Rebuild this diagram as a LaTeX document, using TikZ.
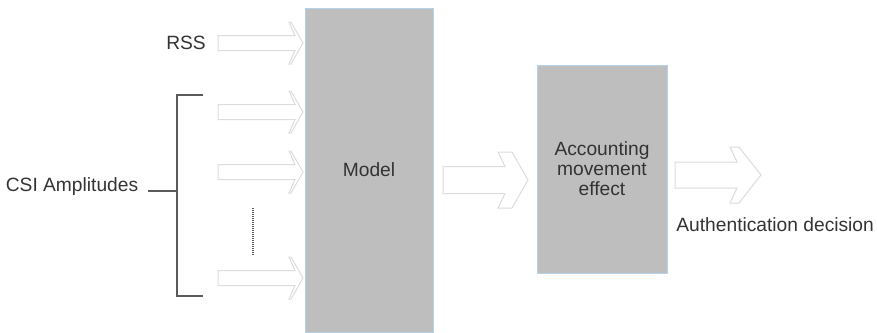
\documentclass[tikz,border=0pt]{standalone}
\usepackage{fontspec}
\setmainfont{Liberation Sans}
\usepackage{tikz}
\usetikzlibrary{positioning,calc}

\definecolor{boxgray}{HTML}{BEBEBE}
\definecolor{boxedge}{HTML}{B4D2EA}
\definecolor{arrowedge}{HTML}{DCDCDC}
\definecolor{txt}{HTML}{333333}
\definecolor{bracegray}{HTML}{5A5A5A}

% block arrow: start x, tip x, centre y, shaft half, head half, back, front, join
\newcommand{\fatarrow}[8]{%
  \draw[arrowedge, fill=white, line width=0.5pt, line join=miter]
    (#1,#3-#4) -- (#2-#8,#3-#4) -- (#2-#6,#3-#5) -- (#2-#7,#3-#5) -- (#2,#3)
    -- (#2-#7,#3+#5) -- (#2-#6,#3+#5) -- (#2-#8,#3+#4) -- (#1,#3+#4) -- cycle;}

\begin{document}
\begin{tikzpicture}[x=0.5pt, y=-0.5pt,
    every node/.style={font=\fontsize{9.6}{10}\selectfont, text=txt},
    block/.style={draw=boxedge, line width=0.5pt, fill=boxgray, align=center, inner sep=0pt},
    bracket/.style={draw=bracegray, line width=0.9pt}]
\useasboundingbox (0,0) rectangle (877,332);
% Boxes
\node[block, minimum width=64pt, minimum height=162pt] (model) at (369,170) {Model};
\node[block, minimum width=65pt, minimum height=104pt] (acc) at (602,169) {Accounting\\movement\\ effect};
% Labels
\node (rss) at (186,43) {RSS};
\node (csi) at (72,187) {CSI Amplitudes};
\node[anchor=west, inner sep=0pt] (auth) at (676,225) {Authentication decision};
% Input arrows
\foreach \y in {43,112,172,278} {
    \fatarrow{218}{303}{\y}{7.5}{21}{14}{12}{8}
}
\draw[bracegray, line width=0.7pt, dash pattern=on 0.5pt off 0.5pt] (253,208) -- (253,255);
% Bracket
\draw[bracket] (203,95) -- (177,95) -- (177,296) -- (203,296);
\draw[bracket] (148,191) -- (177,191);
% Model to correction, correction to decision
\fatarrow{443}{528}{180}{13.5}{28}{30}{16}{23}
\fatarrow{675}{761}{175}{13}{28}{31}{22}{24}
\end{tikzpicture}
\end{document}
